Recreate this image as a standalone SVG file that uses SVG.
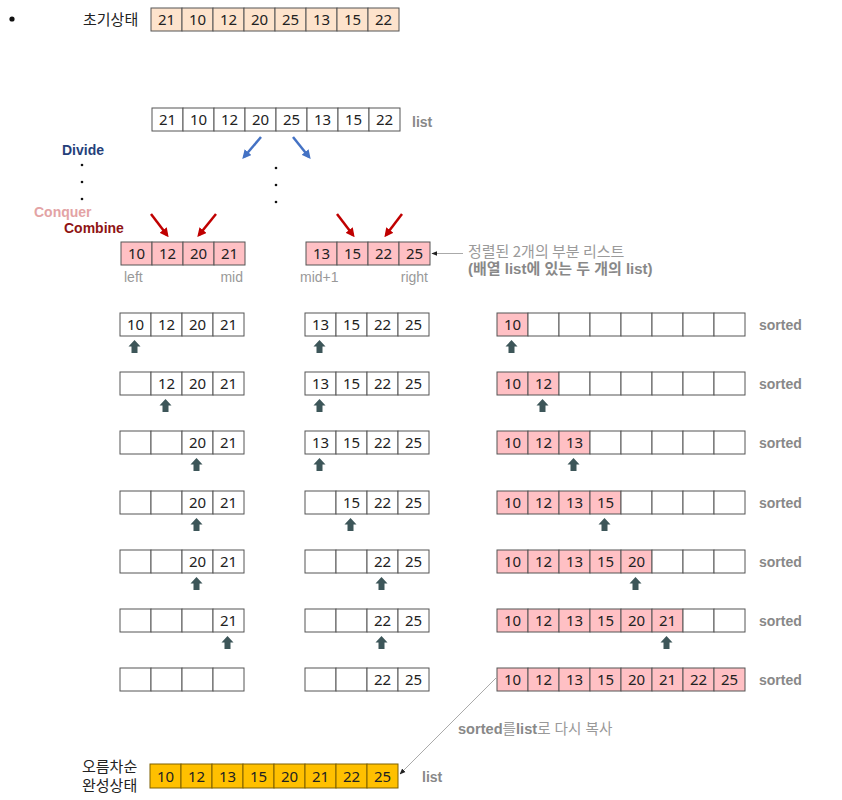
<svg xmlns="http://www.w3.org/2000/svg" xmlns:xlink="http://www.w3.org/1999/xlink" width="842" height="800" viewBox="0 0 842 800">
<style>
.c{stroke:#555;stroke-width:1}
.w{fill:#fff}
.p{fill:#ffc0c4}
.o{fill:#fde3cc}
.g{fill:#ffc000;stroke:#7f6000}
.n{font-family:"Noto Sans","Open Sans",sans-serif;font-size:15px;fill:#222;text-anchor:middle}
.k{font-family:"Noto Sans CJK KR","Noto Sans",sans-serif;font-size:15px;fill:#222}
.lb{font-family:"Liberation Sans",Arial,sans-serif;font-size:14px;fill:#999}
.b{font-family:"Liberation Sans",Arial,"Noto Sans CJK KR",sans-serif;font-size:14px;font-weight:bold;fill:#888}
.ua{fill:#3d5659}
.dot{fill:#111}
</style>
<defs>
<marker id="ahr" viewBox="0 0 10 10" refX="7" refY="5" markerWidth="3.6" markerHeight="3.6" orient="auto"><path d="M0,0 L10,5 L0,10 z" fill="#c00000"/></marker>
<marker id="ahb" viewBox="0 0 10 10" refX="7" refY="5" markerWidth="3.6" markerHeight="3.6" orient="auto"><path d="M0,0 L10,5 L0,10 z" fill="#4472c4"/></marker>
<marker id="ahk" viewBox="0 0 10 10" refX="9" refY="5" markerWidth="6" markerHeight="6" markerUnits="userSpaceOnUse" orient="auto"><path d="M0,1 L10,5 L0,9 z" fill="#222"/></marker>
<path id="up" d="M0,0 L6,6.5 L3,6.5 L3,13 L-3,13 L-3,6.5 L-6,6.5 Z"/>
</defs>
<rect width="842" height="800" fill="#fff"/>

<circle class="dot" cx="12" cy="19" r="2.6"/>
<text class="k" x="83" y="25">초기상태</text>

<g id="initial">
<rect class="c o" x="151" y="8" width="31" height="23"/><rect class="c o" x="182" y="8" width="31" height="23"/><rect class="c o" x="213" y="8" width="31" height="23"/><rect class="c o" x="244" y="8" width="31" height="23"/><rect class="c o" x="275" y="8" width="31" height="23"/><rect class="c o" x="306" y="8" width="31" height="23"/><rect class="c o" x="337" y="8" width="31" height="23"/><rect class="c o" x="368" y="8" width="31" height="23"/>
<text class="n" y="25"><tspan x="166.5">21</tspan><tspan x="197.5">10</tspan><tspan x="228.5">12</tspan><tspan x="259.5">20</tspan><tspan x="290.5">25</tspan><tspan x="321.5">13</tspan><tspan x="352.5">15</tspan><tspan x="383.5">22</tspan></text>
</g>

<g id="list">
<rect class="c w" x="152" y="108" width="31" height="23"/><rect class="c w" x="183" y="108" width="31" height="23"/><rect class="c w" x="214" y="108" width="31" height="23"/><rect class="c w" x="245" y="108" width="31" height="23"/><rect class="c w" x="276" y="108" width="31" height="23"/><rect class="c w" x="307" y="108" width="31" height="23"/><rect class="c w" x="338" y="108" width="31" height="23"/><rect class="c w" x="369" y="108" width="31" height="23"/>
<text class="n" y="125"><tspan x="167.5">21</tspan><tspan x="198.5">10</tspan><tspan x="229.5">12</tspan><tspan x="260.5">20</tspan><tspan x="291.5">25</tspan><tspan x="322.5">13</tspan><tspan x="353.5">15</tspan><tspan x="384.5">22</tspan></text>
<text class="b" x="412" y="127">list</text>
</g>

<g id="labels">
<text x="62" y="155" font-family="Liberation Sans,Arial,sans-serif" font-size="14" font-weight="bold" fill="#253f7a">Divide</text>
<circle class="dot" cx="82" cy="165" r="1.3"/><circle class="dot" cx="82" cy="182" r="1.3"/><circle class="dot" cx="82" cy="199" r="1.3"/>
<circle class="dot" cx="276" cy="168" r="1.3"/><circle class="dot" cx="276" cy="185" r="1.3"/><circle class="dot" cx="276" cy="202" r="1.3"/>
<text x="34" y="217" font-family="Liberation Sans,Arial,sans-serif" font-size="14" font-weight="bold" fill="#e3a3a5">Conquer</text>
<text x="64" y="233" font-family="Liberation Sans,Arial,sans-serif" font-size="14" font-weight="bold" fill="#8f1414">Combine</text>
</g>

<g id="sub-left">
<rect class="c p" x="121" y="242" width="31" height="23"/><rect class="c p" x="152" y="242" width="31" height="23"/><rect class="c p" x="183" y="242" width="31" height="23"/><rect class="c p" x="214" y="242" width="31" height="23"/>
<text class="n" y="259"><tspan x="136.5">10</tspan><tspan x="167.5">12</tspan><tspan x="198.5">20</tspan><tspan x="229.5">21</tspan></text>
<text class="lb" x="124" y="282">left</text>
<text class="lb" x="243" y="282" text-anchor="end">mid</text>
</g>

<g id="sub-right">
<rect class="c p" x="306" y="242" width="31" height="23"/><rect class="c p" x="337" y="242" width="31" height="23"/><rect class="c p" x="368" y="242" width="31" height="23"/><rect class="c p" x="399" y="242" width="31" height="23"/>
<text class="n" y="259"><tspan x="321.5">13</tspan><tspan x="352.5">15</tspan><tspan x="383.5">22</tspan><tspan x="414.5">25</tspan></text>
<text class="lb" x="300" y="282">mid+1</text>
<text class="lb" x="428" y="282" text-anchor="end">right</text>
</g>

<g id="note">
<text x="468" y="257" font-family="Noto Sans CJK KR,Noto Sans,sans-serif" font-size="15" fill="#9a9a9a">정렬된 2개의 부분 리스트</text>
<text x="468" y="274" font-family="Liberation Sans,Arial,Noto Sans CJK KR,sans-serif" font-size="15" font-weight="bold" fill="#888">(배열 list에 있는 두 개의 list)</text>
</g>

<g id="step0">
<rect class="c w" x="120" y="313" width="31" height="23"/><rect class="c w" x="151" y="313" width="31" height="23"/><rect class="c w" x="182" y="313" width="31" height="23"/><rect class="c w" x="213" y="313" width="31" height="23"/>
<rect class="c w" x="305" y="313" width="31" height="23"/><rect class="c w" x="336" y="313" width="31" height="23"/><rect class="c w" x="367" y="313" width="31" height="23"/><rect class="c w" x="398" y="313" width="31" height="23"/>
<rect class="c p" x="497" y="313" width="31" height="23"/><rect class="c w" x="528" y="313" width="31" height="23"/><rect class="c w" x="559" y="313" width="31" height="23"/><rect class="c w" x="590" y="313" width="31" height="23"/><rect class="c w" x="621" y="313" width="31" height="23"/><rect class="c w" x="652" y="313" width="31" height="23"/><rect class="c w" x="683" y="313" width="31" height="23"/><rect class="c w" x="714" y="313" width="31" height="23"/>
<text class="n" y="330"><tspan x="135.5">10</tspan><tspan x="166.5">12</tspan><tspan x="197.5">20</tspan><tspan x="228.5">21</tspan><tspan x="320.5">13</tspan><tspan x="351.5">15</tspan><tspan x="382.5">22</tspan><tspan x="413.5">25</tspan><tspan x="512.5">10</tspan></text>
<text class="b" x="759" y="330">sorted</text>
</g>

<g id="step1">
<rect class="c w" x="120" y="372" width="31" height="23"/><rect class="c w" x="151" y="372" width="31" height="23"/><rect class="c w" x="182" y="372" width="31" height="23"/><rect class="c w" x="213" y="372" width="31" height="23"/>
<rect class="c w" x="305" y="372" width="31" height="23"/><rect class="c w" x="336" y="372" width="31" height="23"/><rect class="c w" x="367" y="372" width="31" height="23"/><rect class="c w" x="398" y="372" width="31" height="23"/>
<rect class="c p" x="497" y="372" width="31" height="23"/><rect class="c p" x="528" y="372" width="31" height="23"/><rect class="c w" x="559" y="372" width="31" height="23"/><rect class="c w" x="590" y="372" width="31" height="23"/><rect class="c w" x="621" y="372" width="31" height="23"/><rect class="c w" x="652" y="372" width="31" height="23"/><rect class="c w" x="683" y="372" width="31" height="23"/><rect class="c w" x="714" y="372" width="31" height="23"/>
<text class="n" y="389"><tspan x="166.5">12</tspan><tspan x="197.5">20</tspan><tspan x="228.5">21</tspan><tspan x="320.5">13</tspan><tspan x="351.5">15</tspan><tspan x="382.5">22</tspan><tspan x="413.5">25</tspan><tspan x="512.5">10</tspan><tspan x="543.5">12</tspan></text>
<text class="b" x="759" y="389">sorted</text>
</g>

<g id="step2">
<rect class="c w" x="120" y="431" width="31" height="23"/><rect class="c w" x="151" y="431" width="31" height="23"/><rect class="c w" x="182" y="431" width="31" height="23"/><rect class="c w" x="213" y="431" width="31" height="23"/>
<rect class="c w" x="305" y="431" width="31" height="23"/><rect class="c w" x="336" y="431" width="31" height="23"/><rect class="c w" x="367" y="431" width="31" height="23"/><rect class="c w" x="398" y="431" width="31" height="23"/>
<rect class="c p" x="497" y="431" width="31" height="23"/><rect class="c p" x="528" y="431" width="31" height="23"/><rect class="c p" x="559" y="431" width="31" height="23"/><rect class="c w" x="590" y="431" width="31" height="23"/><rect class="c w" x="621" y="431" width="31" height="23"/><rect class="c w" x="652" y="431" width="31" height="23"/><rect class="c w" x="683" y="431" width="31" height="23"/><rect class="c w" x="714" y="431" width="31" height="23"/>
<text class="n" y="448"><tspan x="197.5">20</tspan><tspan x="228.5">21</tspan><tspan x="320.5">13</tspan><tspan x="351.5">15</tspan><tspan x="382.5">22</tspan><tspan x="413.5">25</tspan><tspan x="512.5">10</tspan><tspan x="543.5">12</tspan><tspan x="574.5">13</tspan></text>
<text class="b" x="759" y="448">sorted</text>
</g>

<g id="step3">
<rect class="c w" x="120" y="491" width="31" height="23"/><rect class="c w" x="151" y="491" width="31" height="23"/><rect class="c w" x="182" y="491" width="31" height="23"/><rect class="c w" x="213" y="491" width="31" height="23"/>
<rect class="c w" x="305" y="491" width="31" height="23"/><rect class="c w" x="336" y="491" width="31" height="23"/><rect class="c w" x="367" y="491" width="31" height="23"/><rect class="c w" x="398" y="491" width="31" height="23"/>
<rect class="c p" x="497" y="491" width="31" height="23"/><rect class="c p" x="528" y="491" width="31" height="23"/><rect class="c p" x="559" y="491" width="31" height="23"/><rect class="c p" x="590" y="491" width="31" height="23"/><rect class="c w" x="621" y="491" width="31" height="23"/><rect class="c w" x="652" y="491" width="31" height="23"/><rect class="c w" x="683" y="491" width="31" height="23"/><rect class="c w" x="714" y="491" width="31" height="23"/>
<text class="n" y="508"><tspan x="197.5">20</tspan><tspan x="228.5">21</tspan><tspan x="351.5">15</tspan><tspan x="382.5">22</tspan><tspan x="413.5">25</tspan><tspan x="512.5">10</tspan><tspan x="543.5">12</tspan><tspan x="574.5">13</tspan><tspan x="605.5">15</tspan></text>
<text class="b" x="759" y="508">sorted</text>
</g>

<g id="step4">
<rect class="c w" x="120" y="550" width="31" height="23"/><rect class="c w" x="151" y="550" width="31" height="23"/><rect class="c w" x="182" y="550" width="31" height="23"/><rect class="c w" x="213" y="550" width="31" height="23"/>
<rect class="c w" x="305" y="550" width="31" height="23"/><rect class="c w" x="336" y="550" width="31" height="23"/><rect class="c w" x="367" y="550" width="31" height="23"/><rect class="c w" x="398" y="550" width="31" height="23"/>
<rect class="c p" x="497" y="550" width="31" height="23"/><rect class="c p" x="528" y="550" width="31" height="23"/><rect class="c p" x="559" y="550" width="31" height="23"/><rect class="c p" x="590" y="550" width="31" height="23"/><rect class="c p" x="621" y="550" width="31" height="23"/><rect class="c w" x="652" y="550" width="31" height="23"/><rect class="c w" x="683" y="550" width="31" height="23"/><rect class="c w" x="714" y="550" width="31" height="23"/>
<text class="n" y="567"><tspan x="197.5">20</tspan><tspan x="228.5">21</tspan><tspan x="382.5">22</tspan><tspan x="413.5">25</tspan><tspan x="512.5">10</tspan><tspan x="543.5">12</tspan><tspan x="574.5">13</tspan><tspan x="605.5">15</tspan><tspan x="636.5">20</tspan></text>
<text class="b" x="759" y="567">sorted</text>
</g>

<g id="step5">
<rect class="c w" x="120" y="609" width="31" height="23"/><rect class="c w" x="151" y="609" width="31" height="23"/><rect class="c w" x="182" y="609" width="31" height="23"/><rect class="c w" x="213" y="609" width="31" height="23"/>
<rect class="c w" x="305" y="609" width="31" height="23"/><rect class="c w" x="336" y="609" width="31" height="23"/><rect class="c w" x="367" y="609" width="31" height="23"/><rect class="c w" x="398" y="609" width="31" height="23"/>
<rect class="c p" x="497" y="609" width="31" height="23"/><rect class="c p" x="528" y="609" width="31" height="23"/><rect class="c p" x="559" y="609" width="31" height="23"/><rect class="c p" x="590" y="609" width="31" height="23"/><rect class="c p" x="621" y="609" width="31" height="23"/><rect class="c p" x="652" y="609" width="31" height="23"/><rect class="c w" x="683" y="609" width="31" height="23"/><rect class="c w" x="714" y="609" width="31" height="23"/>
<text class="n" y="626"><tspan x="228.5">21</tspan><tspan x="382.5">22</tspan><tspan x="413.5">25</tspan><tspan x="512.5">10</tspan><tspan x="543.5">12</tspan><tspan x="574.5">13</tspan><tspan x="605.5">15</tspan><tspan x="636.5">20</tspan><tspan x="667.5">21</tspan></text>
<text class="b" x="759" y="626">sorted</text>
</g>

<g id="step6">
<rect class="c w" x="120" y="668" width="31" height="23"/><rect class="c w" x="151" y="668" width="31" height="23"/><rect class="c w" x="182" y="668" width="31" height="23"/><rect class="c w" x="213" y="668" width="31" height="23"/>
<rect class="c w" x="305" y="668" width="31" height="23"/><rect class="c w" x="336" y="668" width="31" height="23"/><rect class="c w" x="367" y="668" width="31" height="23"/><rect class="c w" x="398" y="668" width="31" height="23"/>
<rect class="c p" x="497" y="668" width="31" height="23"/><rect class="c p" x="528" y="668" width="31" height="23"/><rect class="c p" x="559" y="668" width="31" height="23"/><rect class="c p" x="590" y="668" width="31" height="23"/><rect class="c p" x="621" y="668" width="31" height="23"/><rect class="c p" x="652" y="668" width="31" height="23"/><rect class="c p" x="683" y="668" width="31" height="23"/><rect class="c p" x="714" y="668" width="31" height="23"/>
<text class="n" y="685"><tspan x="382.5">22</tspan><tspan x="413.5">25</tspan><tspan x="512.5">10</tspan><tspan x="543.5">12</tspan><tspan x="574.5">13</tspan><tspan x="605.5">15</tspan><tspan x="636.5">20</tspan><tspan x="667.5">21</tspan><tspan x="698.5">22</tspan><tspan x="729.5">25</tspan></text>
<text class="b" x="759" y="685">sorted</text>
</g>

<g id="result">
<text class="k" font-size="12.5"><tspan x="82" y="772">오름차순</tspan><tspan x="82" y="791">완성상태</tspan></text>
<rect class="g" x="150" y="764" width="31" height="24"/><rect class="g" x="181" y="764" width="31" height="24"/><rect class="g" x="212" y="764" width="31" height="24"/><rect class="g" x="243" y="764" width="31" height="24"/><rect class="g" x="274" y="764" width="31" height="24"/><rect class="g" x="305" y="764" width="31" height="24"/><rect class="g" x="336" y="764" width="31" height="24"/><rect class="g" x="367" y="764" width="31" height="24"/>
<text class="n" y="782"><tspan x="165.5">10</tspan><tspan x="196.5">12</tspan><tspan x="227.5">13</tspan><tspan x="258.5">15</tspan><tspan x="289.5">20</tspan><tspan x="320.5">21</tspan><tspan x="351.5">22</tspan><tspan x="382.5">25</tspan></text>
<text class="b" x="422" y="782">list</text>
</g>

<g id="connectors">
<line x1="261" y1="137" x2="244" y2="157" stroke="#4472c4" stroke-width="2.5" marker-end="url(#ahb)"/>
<line x1="293" y1="137" x2="309" y2="157" stroke="#4472c4" stroke-width="2.5" marker-end="url(#ahb)"/>
<line x1="151" y1="214" x2="167" y2="235" stroke="#c00000" stroke-width="2.5" marker-end="url(#ahr)"/>
<line x1="216" y1="214" x2="199" y2="235" stroke="#c00000" stroke-width="2.5" marker-end="url(#ahr)"/>
<line x1="337" y1="214" x2="353" y2="235" stroke="#c00000" stroke-width="2.5" marker-end="url(#ahr)"/>
<line x1="402" y1="214" x2="386" y2="235" stroke="#c00000" stroke-width="2.5" marker-end="url(#ahr)"/>
<line x1="463" y1="253.5" x2="432" y2="253.5" stroke="#aaa" stroke-width="1" marker-end="url(#ahk)"/>
<line x1="497" y1="677" x2="400" y2="774" stroke="#aaa" stroke-width="1" marker-end="url(#ahk)"/>
<text x="458" y="734" font-family="Liberation Sans,Arial,Noto Sans CJK KR,sans-serif" font-size="14.6" fill="#999"><tspan font-weight="bold" fill="#888">sorted</tspan>를<tspan font-weight="bold" fill="#888">list</tspan>로 다시 복사</text>
</g>

<g id="pointers" class="ua">
<use xlink:href="#up" x="134.5" y="340"/><use xlink:href="#up" x="319.5" y="340"/><use xlink:href="#up" x="511.5" y="340"/>
<use xlink:href="#up" x="165.5" y="399"/><use xlink:href="#up" x="319.5" y="399"/><use xlink:href="#up" x="542.5" y="399"/>
<use xlink:href="#up" x="196.5" y="458"/><use xlink:href="#up" x="319.5" y="458"/><use xlink:href="#up" x="573.5" y="458"/>
<use xlink:href="#up" x="196.5" y="518"/><use xlink:href="#up" x="350.5" y="518"/><use xlink:href="#up" x="604.5" y="518"/>
<use xlink:href="#up" x="196.5" y="577"/><use xlink:href="#up" x="381.5" y="577"/><use xlink:href="#up" x="635.5" y="577"/>
<use xlink:href="#up" x="227.5" y="636"/><use xlink:href="#up" x="381.5" y="636"/><use xlink:href="#up" x="666.5" y="636"/>
</g>
</svg>
